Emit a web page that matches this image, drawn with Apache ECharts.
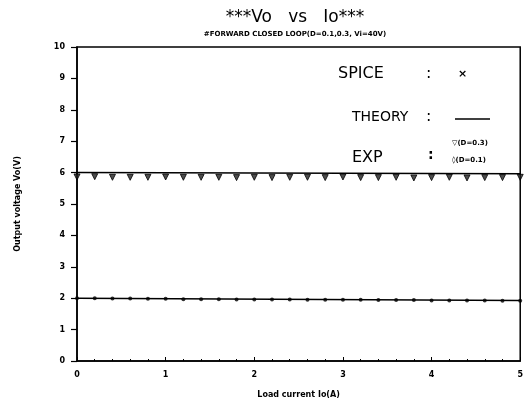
<!DOCTYPE html>
<html><head><meta charset="utf-8">
<script src="https://cdn.jsdelivr.net/npm/echarts@6/dist/echarts.min.js"></script>
<style>html,body{margin:0;padding:0;background:#fff}#c{width:526px;height:406px}</style>
</head><body><div id="c"></div>
<script>
const loadCurrent = [0,0.2,0.4,0.6,0.8,1.0,1.2,1.4,1.6,1.8,2.0,2.2,2.4,2.6,2.8,3.0,3.2,3.4,3.6,3.8,4.0,4.2,4.4,4.6,4.8,5.0];
const expD03 = [5.86,5.87,5.85,5.85,5.85,5.86,5.85,5.85,5.85,5.84,5.85,5.84,5.85,5.85,5.84,5.86,5.84,5.84,5.85,5.83,5.84,5.85,5.83,5.84,5.84,5.85];
const expD01 = [2.00,2.00,1.99,1.99,1.98,1.98,1.97,1.97,1.97,1.96,1.96,1.96,1.96,1.95,1.95,1.95,1.95,1.94,1.94,1.94,1.93,1.93,1.93,1.93,1.92,1.92];
const theoryX = [0,5];
const theoryD03 = [6.00,5.96];
const theoryD01 = [2.00,1.93];
const yTicks = [0,1,2,3,4,5,6,7,8,9,10];
const xTicks = [0,1,2,3,4,5];

const chart = echarts.init(document.getElementById('c'));
const F = 'DejaVu Sans';
chart.setOption({
  animation:false,
  backgroundColor:'#fff',
  title:[
    {text:'***Vo   vs   Io***',left:290,top:4,textAlign:'center',textStyle:{fontFamily:F,fontSize:17,fontWeight:'normal',color:'#000'}},
    {text:'#FORWARD CLOSED LOOP(D=0.1,0.3, Vi=40V)',left:290,top:26,textAlign:'center',textStyle:{fontFamily:F,fontSize:7,fontWeight:'bold',color:'#000'}}
  ],
  grid:{left:77,right:4,top:47,bottom:45,show:true,borderColor:'#000',borderWidth:1.5},
  xAxis:{type:'value',min:0,max:5,interval:1,
    name:'Load current Io(A)',nameLocation:'middle',nameGap:30,
    nameTextStyle:{fontFamily:F,fontSize:8,fontWeight:'bold',color:'#000'},
    axisLine:{lineStyle:{color:'#000',width:1.5}},
    axisTick:{inside:true,length:4,lineStyle:{color:'#000'}},
    minorTick:{show:true,splitNumber:5,length:2,lineStyle:{color:'#000'}},
    axisLabel:{fontFamily:F,fontSize:8,fontWeight:'bold',color:'#000',margin:10,formatter:v=>xTicks.includes(v)?String(v):''},
    splitLine:{show:false}},
  yAxis:{type:'value',min:0,max:10,interval:1,
    name:'Output voltage Vo(V)',nameLocation:'middle',nameGap:55,nameRotate:90,
    nameTextStyle:{fontFamily:F,fontSize:8,fontWeight:'bold',color:'#000'},
    axisLine:{lineStyle:{color:'#000',width:1.5}},
    axisTick:{length:6,lineStyle:{color:'#000',width:1.2}},
    axisLabel:{fontFamily:F,fontSize:8,fontWeight:'bold',color:'#000',margin:12,formatter:v=>yTicks.includes(v)?String(v):''},
    splitLine:{show:false}},
  series:[
    {name:'THEORY D=0.3',type:'line',data:theoryX.map((x,i)=>[x,theoryD03[i]]),symbol:'none',lineStyle:{color:'#000',width:1.5}},
    {name:'THEORY D=0.1',type:'line',data:theoryX.map((x,i)=>[x,theoryD01[i]]),symbol:'none',lineStyle:{color:'#000',width:1.5}},
    {name:'EXP D=0.3',type:'scatter',data:loadCurrent.map((x,i)=>[x,expD03[i]]),symbol:'triangle',symbolRotate:180,symbolSize:6,
      itemStyle:{color:'#222',borderColor:'#000',borderWidth:1}},
    {name:'EXP D=0.1',type:'scatter',data:loadCurrent.map((x,i)=>[x,expD01[i]]),symbol:'circle',symbolSize:4,
      itemStyle:{color:'#000'}}
  ],
  graphic:[
    {type:'text',left:338,top:66,style:{text:'SPICE',font:'16px '+F,fill:'#000'}},
    {type:'text',left:426,top:66,style:{text:':',font:'16px '+F,fill:'#000'}},
    {type:'text',left:458,top:69,style:{text:'×',font:'bold 11px '+F,fill:'#000'}},
    {type:'text',left:352,top:110,style:{text:'THEORY',font:'14px '+F,fill:'#000'}},
    {type:'text',left:426,top:109,style:{text:':',font:'16px '+F,fill:'#000'}},
    {type:'line',shape:{x1:455,y1:119,x2:490,y2:119},style:{stroke:'#000',lineWidth:1.5}},
    {type:'text',left:352,top:150,style:{text:'EXP',font:'16px '+F,fill:'#000'}},
    {type:'text',left:428,top:148,style:{text:':',font:'bold 14px '+F,fill:'#000'}},
    {type:'text',left:452,top:140,style:{text:'▽(D=0.3)',font:'bold 7px '+F,fill:'#000'}},
    {type:'text',left:452,top:157,style:{text:'◊(D=0.1)',font:'bold 7px '+F,fill:'#000'}}
  ]
});
</script></body></html>
